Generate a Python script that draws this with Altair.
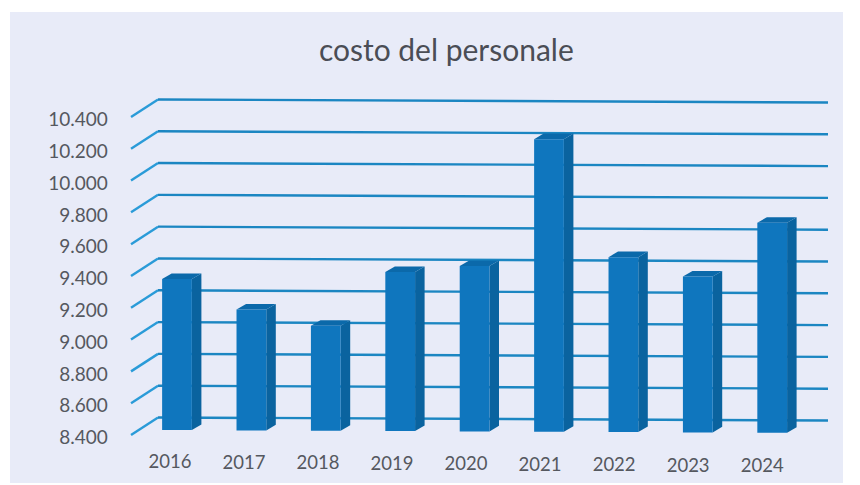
import altair as alt
import pandas as pd

years = ["2016", "2017", "2018", "2019", "2020", "2021", "2022", "2023", "2024"]
costs = [9350, 9160, 9060, 9400, 9440, 10240, 9500, 9380, 9720]
ticks = [8400, 8600, 8800, 9000, 9200, 9400, 9600, 9800, 10000, 10200, 10400]
tick_labels = ["8.400", "8.600", "8.800", "9.000", "9.200", "9.400", "9.600", "9.800", "10.000", "10.200", "10.400"]
title = "costo del personale"

# one x unit = one category, y in chart units; the scan is slightly rotated (drift)
HALF = 0.2
DEPTH_X, DEPTH_Y = 0.128, 35
GRID_X, GRID_Y = 0.363, 110
AXIS_X = -0.618
GRID_END = 8.75
GRID_DRIFT = 19
BASE_0, BASE_DRIFT = 8431, -2.1

X = alt.Scale(domain=[-2.2446, 8.9516], nice=False, zero=False)
Y = alt.Scale(domain=[8098, 11060], nice=False, zero=False)
xq = lambda f: alt.X(f, type="quantitative", scale=X, axis=None, title=None)
yq = lambda f: alt.Y(f, type="quantitative", scale=Y, axis=None, title=None, stack=None)
y2 = lambda f: alt.Y2(f)

grid_rows = []
for t in ticks:
    grid_rows += [
        dict(t=t, part="a", x=AXIS_X, y=t),
        dict(t=t, part="a", x=AXIS_X + GRID_X, y=t + GRID_Y),
        dict(t=t, part="b", x=AXIS_X + GRID_X, y=t + GRID_Y),
        dict(t=t, part="b", x=GRID_END, y=t + GRID_Y - GRID_DRIFT),
    ]
grid_df = pd.DataFrame(grid_rows)
slant = (
    alt.Chart(grid_df[grid_df.part == "a"])
    .mark_line(color="#2a9bd8", strokeWidth=2.4)
    .encode(x=xq("x"), y=yq("y"), detail="t:N")
)
back = (
    alt.Chart(grid_df[grid_df.part == "b"])
    .mark_line(color="#1b86c2", strokeWidth=2.4)
    .encode(x=xq("x"), y=yq("y"), detail="t:N")
)

front_rows, side_rows, top_rows = [], [], []
for i, (yr, c) in enumerate(zip(years, costs)):
    b = BASE_0 + BASE_DRIFT * i
    t = b + c - 8400
    l, r = i - HALF, i + HALF
    front_rows.append(dict(x=l, x2=r, y=b, y2=t))
    side_rows += [
        dict(k=yr, x=r, y=b, y2=t),
        dict(k=yr, x=r + DEPTH_X, y=b + DEPTH_Y, y2=t + DEPTH_Y),
    ]
    top_rows += [
        dict(k=yr, x=l, y=t, y2=t),
        dict(k=yr, x=l + DEPTH_X, y=t, y2=t + DEPTH_Y),
        dict(k=yr, x=r, y=t, y2=t + DEPTH_Y),
        dict(k=yr, x=r + DEPTH_X, y=t + DEPTH_Y, y2=t + DEPTH_Y),
    ]

side = (
    alt.Chart(pd.DataFrame(side_rows))
    .mark_area(color="#0a639f", opacity=1)
    .encode(x=xq("x"), y=yq("y"), y2=y2("y2"), detail="k:N")
)
top = (
    alt.Chart(pd.DataFrame(top_rows))
    .mark_area(color="#0b69aa", opacity=1)
    .encode(x=xq("x"), y=yq("y"), y2=y2("y2"), detail="k:N")
)
front = (
    alt.Chart(pd.DataFrame(front_rows))
    .mark_rect(color="#0f76be")
    .encode(x=xq("x"), x2=alt.X2("x2"), y=yq("y"), y2=y2("y2"))
)

font = "Lato"
text_color = "#55585f"
ytext = (
    alt.Chart(pd.DataFrame(dict(t=[v - 20 for v in ticks], label=tick_labels, x=[-0.93] * len(ticks))))
    .mark_text(align="right", baseline="middle", font=font, fontSize=19, color=text_color)
    .encode(x=xq("x"), y=yq("t"), text="label:N")
)
xtext = (
    alt.Chart(pd.DataFrame(dict(
        x=[i * 0.995 - 0.095 for i in range(len(years))],
        y=[8230 - 3.5 * i for i in range(len(years))],
        label=years,
    )))
    .mark_text(align="center", baseline="middle", font=font, fontSize=18.5, color=text_color)
    .encode(x=xq("x"), y=yq("y"), text="label:N")
)
ttext = (
    alt.Chart(pd.DataFrame(dict(x=[3.62], y=[10810], label=[title])))
    .mark_text(align="center", baseline="middle", font=font, fontSize=30, color="#4a4d55")
    .encode(x=xq("x"), y=yq("y"), text="label:N")
)

chart = (
    alt.layer(slant, back, side, top, front, ytext, xtext, ttext)
    .properties(
        width=833,
        height=471,
        padding={"left": 2, "top": 4, "right": 0, "bottom": 0},
        autosize=alt.AutoSizeParams(type="none"),
        background="#ffffff",
    )
    .configure_view(fill="#e8ebf8", stroke=None)
)
chart.save("out.html", embed_options={"renderer": "svg", "actions": False})
